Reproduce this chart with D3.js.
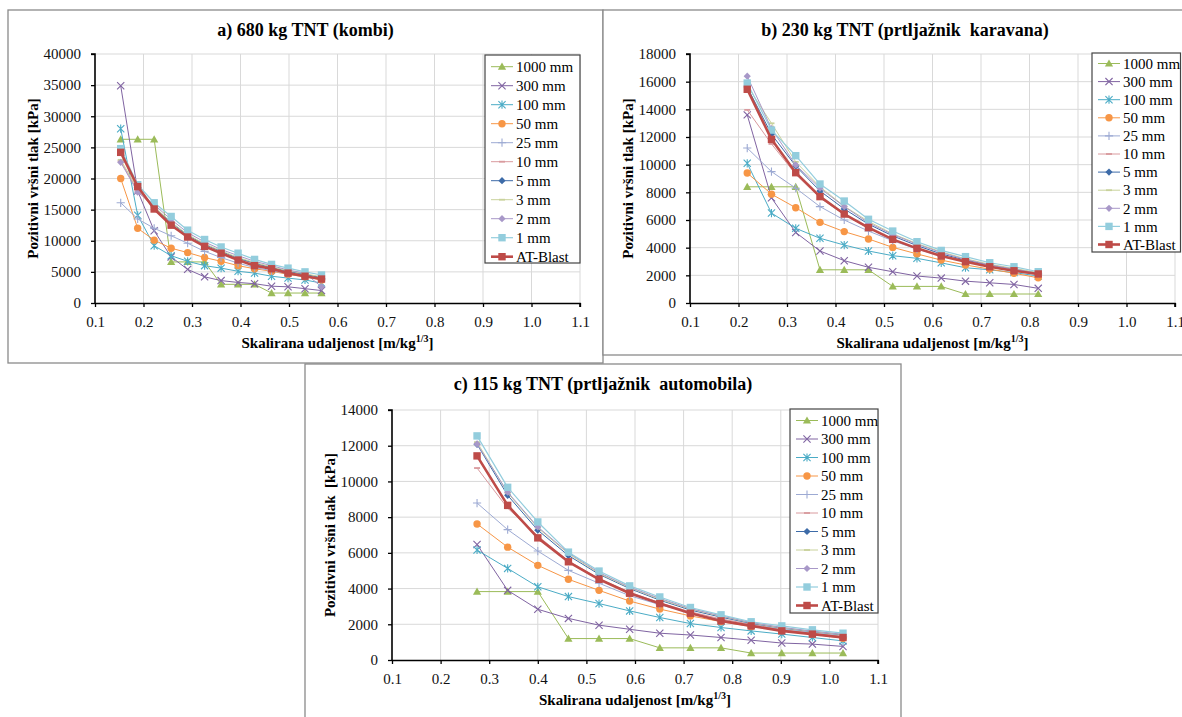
<!DOCTYPE html>
<html>
<head>
<meta charset="utf-8">
<script src="https://cdn.jsdelivr.net/npm/d3@7"></script>
<style>
  html, body { margin: 0; padding: 0; background: #fff; }
  svg { display: block; }
</style>
</head>
<body>
<svg id="chart" width="1182" height="717" font-family="Liberation Serif"></svg>
<script>
// ---------------- DATA ----------------
const seriesNames = ["1000 mm", "300 mm", "100 mm", "50 mm", "25 mm", "10 mm", "5 mm", "3 mm", "2 mm", "1 mm", "AT-Blast"];
const xTickValues = [0.1, 0.2, 0.3, 0.4, 0.5, 0.6, 0.7, 0.8, 0.9, 1.0, 1.1];

// Panel a) 680 kg TNT (kombi)
const xA = [0.153, 0.188, 0.222, 0.257, 0.291, 0.326, 0.360, 0.395, 0.429, 0.464, 0.498, 0.533, 0.567];
const yTicksA = [0, 5000, 10000, 15000, 20000, 25000, 30000, 35000, 40000];
const a1000 = [26300, 26300, 26300, 6600, 6600, 6600, 3000, 3000, 3000, 1600, 1600, 1600, 1600];
const a300  = [34900, 18000, 11600, 7400, 5400, 4200, 3600, 3300, 3100, 2700, 2600, 2300, 2000];
const a100  = [28000, 14100, 9200, 7600, 6700, 6000, 5600, 5100, 4800, 4300, 4000, 3700, 3200];
const a50   = [20000, 12000, 10100, 8800, 8100, 7300, 6700, 6000, 5500, 5100, 4600, 4200, 3700];
const a25   = [16100, 13500, 12000, 10800, 9600, 8300, 7300, 6400, 5700, 5200, 4700, 4300, 3900];
const a10   = [22800, 18000, 15200, 12700, 10700, 9200, 8100, 7100, 6300, 5600, 5000, 4500, 4100];
const a5    = [24600, 18600, 15400, 12900, 10900, 9400, 8300, 7200, 6400, 5700, 5100, 4600, 4100];
const a3    = [23000, 18300, 15500, 13000, 11000, 9500, 8400, 7300, 6500, 5800, 5200, 4700, 4200];
const a2    = [22600, 17800, 15800, 13400, 11300, 9800, 8600, 7600, 6700, 6000, 5300, 4800, 2600];
const a1    = [24800, 19000, 16100, 13900, 11700, 10200, 9000, 8000, 7000, 6200, 5600, 5000, 4500];
const aAT   = [24200, 18700, 15100, 12500, 10600, 9100, 8000, 6900, 6000, 5500, 4800, 4300, 3850];

// Panel b) 230 kg TNT (prtljažnik karavana)
const xB = [0.218, 0.268, 0.318, 0.368, 0.418, 0.468, 0.518, 0.568, 0.618, 0.668, 0.718, 0.768, 0.818];
const yTicksB = [0, 2000, 4000, 6000, 8000, 10000, 12000, 14000, 16000, 18000];
const b1000 = [8400, 8400, 8400, 2400, 2400, 2400, 1200, 1200, 1200, 650, 650, 650, 650];
const b300  = [13600, 7600, 5100, 3760, 3060, 2580, 2260, 1950, 1800, 1580, 1460, 1340, 1060];
const b100  = [10100, 6500, 5400, 4680, 4190, 3760, 3420, 3230, 2900, 2550, 2400, 2200, 1950];
const b50   = [9400, 7870, 6890, 5830, 5160, 4630, 4020, 3550, 3100, 2750, 2450, 2150, 1820];
const b25   = [11200, 9500, 8300, 6970, 6000, 5200, 4500, 3900, 3400, 3000, 2650, 2350, 2100];
const b10   = [13960, 11500, 9300, 7600, 6400, 5400, 4600, 3950, 3400, 3000, 2600, 2300, 2050];
const b5    = [15600, 12200, 9900, 8100, 6800, 5700, 4850, 4150, 3550, 3100, 2750, 2450, 2150];
const b3    = [15700, 12990, 10200, 8400, 7000, 5900, 5000, 4300, 3700, 3200, 2800, 2500, 2200];
const b2    = [16400, 12600, 9980, 8300, 6970, 5800, 4950, 4250, 3650, 3150, 2750, 2450, 2150];
const b1    = [15900, 12500, 10650, 8600, 7370, 6050, 5200, 4430, 3800, 3350, 2910, 2620, 2260];
const bAT   = [15450, 11830, 9420, 7690, 6430, 5450, 4600, 3950, 3400, 2990, 2620, 2330, 2100];

// Panel c) 115 kg TNT (prtljažnik automobila)
const xC = [0.275, 0.338, 0.400, 0.463, 0.526, 0.589, 0.651, 0.714, 0.777, 0.839, 0.902, 0.965, 1.028];
const yTicksC = [0, 2000, 4000, 6000, 8000, 10000, 12000, 14000];
const c1000 = [3830, 3830, 3830, 1200, 1200, 1200, 680, 680, 680, 390, 390, 390, 390];
const c300  = [6470, 3900, 2840, 2330, 1950, 1720, 1500, 1400, 1260, 1110, 950, 890, 760];
const c100  = [6160, 5130, 4100, 3550, 3160, 2750, 2380, 2040, 1820, 1630, 1450, 1260, 1070];
const c50   = [7620, 6320, 5300, 4520, 3900, 3300, 2850, 2470, 2150, 1880, 1650, 1450, 1220];
const c25   = [8790, 7300, 6100, 5020, 4300, 3600, 3100, 2650, 2250, 1950, 1700, 1500, 1300];
const c10   = [10750, 8500, 6950, 5550, 4550, 3800, 3200, 2700, 2300, 2000, 1700, 1500, 1330];
const c5    = [12080, 9220, 7270, 5850, 4800, 4000, 3350, 2800, 2400, 2050, 1780, 1580, 1400];
const c3    = [12200, 9350, 7400, 5950, 4850, 4050, 3400, 2850, 2450, 2080, 1800, 1600, 1420];
const c2    = [12100, 9400, 7450, 6000, 4900, 4080, 3450, 2880, 2470, 2100, 1830, 1620, 1440];
const c1    = [12550, 9670, 7730, 6040, 4980, 4150, 3530, 2940, 2530, 2140, 1910, 1690, 1500];
const cAT   = [11430, 8660, 6840, 5500, 4520, 3740, 3160, 2620, 2190, 1910, 1630, 1450, 1260];

const titles = ["a) 680 kg TNT (kombi)", "b) 230 kg TNT (prtljažnik  karavana)", "c) 115 kg TNT (prtljažnik  automobila)"];
const yLabels = ["Pozitivni vršni tlak [kPa]", "Pozitivni vršni tlak [kPa]", "Pozitivni vršni tlak  [kPa]"];
const xLabelMain = "Skalirana udaljenost [m/kg";
const xLabelSup = "1/3";

// ---------------- STYLE ----------------
const FONT = "Liberation Serif";
const styles = [
  { color: "#9BBB59", marker: "triangle", width: 1 },
  { color: "#8064A2", marker: "x", width: 1 },
  { color: "#4BACC6", marker: "asterisk", width: 1 },
  { color: "#F79646", marker: "circle", width: 1 },
  { color: "#9DAAD3", marker: "plus", width: 1 },
  { color: "#D99A9E", marker: "dash", width: 1 },
  { color: "#3D6BA8", marker: "diamond", width: 1 },
  { color: "#C9D29C", marker: "dash", width: 1 },
  { color: "#A898C8", marker: "diamond", width: 1 },
  { color: "#93CDDD", marker: "square", width: 1.2 },
  { color: "#BE4B48", marker: "square", width: 2.6 }
];

const panels = [
  { x: xA, series: [a1000, a300, a100, a50, a25, a10, a5, a3, a2, a1, aAT], yTicks: yTicksA,
    border: [8, 10, 595, 353], plot: { l: 95, r: 580, t: 54, b: 303 },
    legend: { x: 485, y: 55, w: 95, h: 208, row0: 66.7, pitch: 19 } },
  { x: xB, series: [b1000, b300, b100, b50, b25, b10, b5, b3, b2, b1, bAT], yTicks: yTicksB,
    border: [603, 10, 620, 345], plot: { l: 690, r: 1175, t: 54, b: 303 },
    legend: { x: 1092, y: 53, w: 88.5, h: 199, row0: 63.5, pitch: 18.1 } },
  { x: xC, series: [c1000, c300, c100, c50, c25, c10, c5, c3, c2, c1, cAT], yTicks: yTicksC,
    border: [305, 364, 596, 380], plot: { l: 392, r: 878, t: 410, b: 660 },
    legend: { x: 790, y: 409, w: 88, h: 204, row0: 420.5, pitch: 18.5 } }
];

// ---------------- DRAW ----------------
const svg = d3.select("#chart");
svg.append("rect").attr("width", 1182).attr("height", 717).attr("fill", "#fff");

function drawMarker(g, type, cx, cy, color) {
  const s = 3.6;
  switch (type) {
    case "triangle":
      g.append("path").attr("d", `M${cx},${cy - s - 0.5}L${cx + s + 0.5},${cy + s - 0.5}L${cx - s - 0.5},${cy + s - 0.5}Z`).attr("fill", color);
      break;
    case "x":
      g.append("path").attr("d", `M${cx - s},${cy - s}L${cx + s},${cy + s}M${cx - s},${cy + s}L${cx + s},${cy - s}`).attr("stroke", color).attr("stroke-width", 1.1).attr("fill", "none");
      break;
    case "asterisk":
      g.append("path").attr("d", `M${cx - s},${cy - s}L${cx + s},${cy + s}M${cx - s},${cy + s}L${cx + s},${cy - s}M${cx},${cy - s - 0.5}L${cx},${cy + s + 0.5}`).attr("stroke", color).attr("stroke-width", 1.1).attr("fill", "none");
      break;
    case "circle":
      g.append("circle").attr("cx", cx).attr("cy", cy).attr("r", 3.7).attr("fill", color);
      break;
    case "plus":
      g.append("path").attr("d", `M${cx - s - 0.5},${cy}L${cx + s + 0.5},${cy}M${cx},${cy - s - 0.5}L${cx},${cy + s + 0.5}`).attr("stroke", color).attr("stroke-width", 1.1).attr("fill", "none");
      break;
    case "dash":
      g.append("path").attr("d", `M${cx - 3},${cy}L${cx + 3},${cy}`).attr("stroke", color).attr("stroke-width", 1.8).attr("fill", "none");
      break;
    case "diamond":
      g.append("path").attr("d", `M${cx},${cy - s}L${cx + s},${cy}L${cx},${cy + s}L${cx - s},${cy}Z`).attr("fill", color);
      break;
    case "square":
      g.append("rect").attr("x", cx - 3.7).attr("y", cy - 3.7).attr("width", 7.4).attr("height", 7.4).attr("fill", color);
      break;
  }
}

panels.forEach(p => {
  const [bx, by, bw, bh] = p.border;
  svg.append("rect").attr("x", bx).attr("y", by).attr("width", bw).attr("height", bh)
    .attr("fill", "#fff").attr("stroke", "#8a8a8a").attr("stroke-width", 1.3);
});

panels.forEach((p, pi) => {
  const g = svg.append("g");
  const [bx, by, bw, bh] = p.border;
  const xs = d3.scaleLinear().domain([0.1, 1.1]).range([p.plot.l, p.plot.r]);
  const ymax = p.yTicks[p.yTicks.length - 1];
  const ys = d3.scaleLinear().domain([0, ymax]).range([p.plot.b, p.plot.t]);

  // gridlines
  g.append("g").selectAll("line").data(p.yTicks.slice(1)).join("line")
    .attr("x1", p.plot.l).attr("x2", p.plot.r)
    .attr("y1", d => ys(d)).attr("y2", d => ys(d))
    .attr("stroke", "#d9d9d9").attr("stroke-width", 1);
  g.append("g").selectAll("line").data(xTickValues.slice(1)).join("line")
    .attr("x1", d => xs(d)).attr("x2", d => xs(d))
    .attr("y1", p.plot.t).attr("y2", p.plot.b)
    .attr("stroke", "#d9d9d9").attr("stroke-width", 1);

  // axes
  const xAxis = d3.axisBottom(xs).tickValues(xTickValues).tickFormat(d3.format(".1f")).tickSize(4).tickPadding(9);
  const yAxis = d3.axisLeft(ys).tickValues(p.yTicks).tickFormat(d3.format("d")).tickSize(4).tickPadding(10);
  const gx = g.append("g").attr("transform", `translate(0,${p.plot.b})`).call(xAxis);
  const gy = g.append("g").attr("transform", `translate(${p.plot.l},0)`).call(yAxis);
  [gx, gy].forEach(a => {
    a.attr("font-family", FONT).attr("font-size", 15);
    a.select(".domain").attr("stroke", "#000").attr("stroke-width", 1.6);
    a.selectAll(".tick line").attr("stroke", "#000").attr("stroke-width", 1.3);
    a.selectAll(".tick text").attr("font-family", FONT).attr("font-size", 15).attr("fill", "#111");
  });
  gx.select(".domain").attr("d", `M${p.plot.l},0.5H${p.plot.r}V4`);
  gy.select(".domain").attr("d", `M0,${p.plot.b}V${p.plot.t}H-4`);

  // series
  const line = d3.line().x(d => xs(d[0])).y(d => ys(d[1]));
  p.series.forEach((vals, si) => {
    const st = styles[si];
    const pts = p.x.map((xv, i) => [xv, vals[i]]);
    const sg = g.append("g");
    sg.append("path").datum(pts).attr("d", line).attr("fill", "none")
      .attr("stroke", st.color).attr("stroke-width", st.width).attr("stroke-linejoin", "round");
    pts.forEach(pt => drawMarker(sg, st.marker, xs(pt[0]), ys(pt[1]), st.color));
  });

  // title
  g.append("text").attr("x", bx + bw / 2 + (pi === 1 ? -8 : 0)).attr("y", pi === 2 ? 390 : 36)
    .attr("text-anchor", "middle").attr("font-family", FONT).attr("font-size", 18).attr("font-weight", "bold")
    .style("white-space", "pre")
    .text(titles[pi]);

  // y label
  const ymid = (p.plot.t + p.plot.b) / 2;
  g.append("text").attr("transform", `translate(${bx + 30},${ymid}) rotate(-90)`)
    .attr("text-anchor", "middle").attr("font-family", FONT).attr("font-size", 15).attr("font-weight", "bold")
    .style("white-space", "pre")
    .text(yLabels[pi]);

  // x label
  const xl = g.append("text").attr("x", (p.plot.l + p.plot.r) / 2).attr("y", p.plot.b + 45)
    .attr("text-anchor", "middle").attr("font-family", FONT).attr("font-size", 15).attr("font-weight", "bold");
  xl.append("tspan").text(xLabelMain);
  xl.append("tspan").attr("dy", -6).attr("font-size", 10).text(xLabelSup);
  xl.append("tspan").attr("dy", 6).text("]");

  // legend
  const L = p.legend;
  const lg = g.append("g");
  lg.append("rect").attr("x", L.x).attr("y", L.y).attr("width", L.w).attr("height", L.h)
    .attr("fill", "#fff").attr("stroke", "#444").attr("stroke-width", 1.2);
  seriesNames.forEach((name, si) => {
    const st = styles[si];
    const yy = L.row0 + si * L.pitch;
    lg.append("line").attr("x1", L.x + 6).attr("x2", L.x + 28).attr("y1", yy).attr("y2", yy)
      .attr("stroke", st.color).attr("stroke-width", st.width);
    drawMarker(lg, st.marker, L.x + 17, yy, st.color);
    lg.append("text").attr("x", L.x + 31).attr("y", yy).attr("dy", "0.35em")
      .attr("font-family", FONT).attr("font-size", 15).text(name);
  });
});
</script>
</body>
</html>
